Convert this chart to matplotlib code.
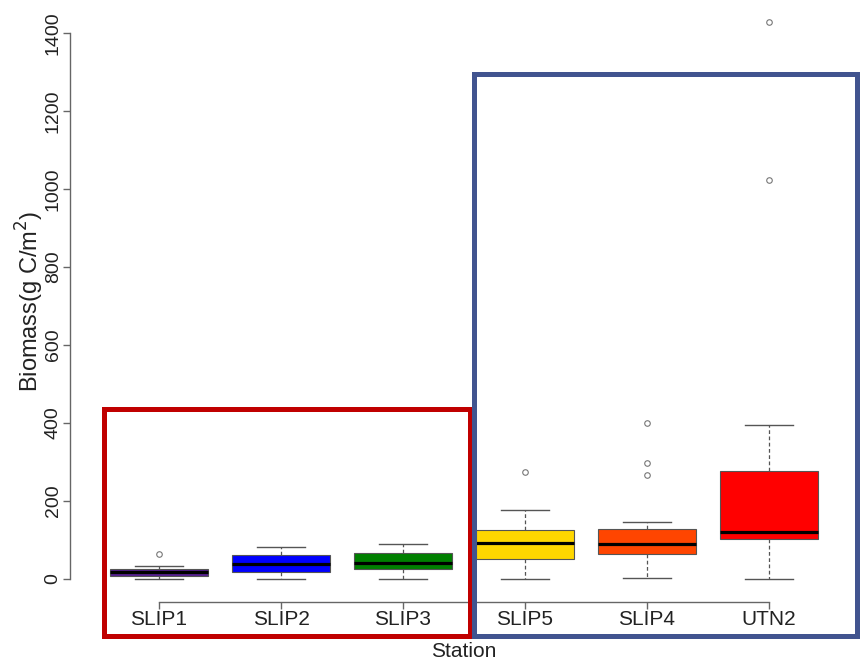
"""Biomass by station: boxplots with the two station groups outlined."""
import matplotlib
matplotlib.use("Agg")
import matplotlib.pyplot as plt
from matplotlib.patches import Rectangle

stations = ["SLIP1", "SLIP2", "SLIP3", "SLIP5", "SLIP4", "UTN2"]
colors = ["#56208E", "#0000FF", "#008000", "#FFD700", "#FF4500", "#FF0000"]

# five-number summaries (g C/m^2)
whisker_low = [0, 0, 0, 0, 3, 0]
q1 = [8, 18, 26, 51, 64, 103]
median = [18, 38, 42, 93, 91, 120]
q3 = [26, 61, 67, 126, 129, 278]
whisker_high = [33, 83, 90, 177, 146, 395]
outliers = [[64], [], [], [274], [267, 298, 399], [1022, 1427]]

# station groups outlined on top of the plot: (first x, last x, top y) in data units
groups = [(0.55, 3.55, 435, "#C00000"), (3.58, 6.72, 1294, "#41548F")]
group_bottom = -146

W, H = 867, 660
fig = plt.figure(figsize=(W / 100, H / 100), dpi=100)
ax = fig.add_axes([70 / W, 58 / H, 789 / W, 602 / H])

stats = []
for i, name in enumerate(stations):
    stats.append({
        "label": name, "whislo": whisker_low[i], "q1": q1[i], "med": median[i],
        "q3": q3[i], "whishi": whisker_high[i], "fliers": outliers[i],
    })

positions = list(range(1, len(stations) + 1))
bp = ax.bxp(stats, positions=positions, widths=0.8, patch_artist=True,
            showfliers=True, capwidths=0.4,
            boxprops=dict(edgecolor="#555555", linewidth=0.8),
            whiskerprops=dict(color="#555555", linewidth=0.9, linestyle=(0, (3, 2))),
            capprops=dict(color="#555555", linewidth=1.0),
            medianprops=dict(color="black", linewidth=2.3, solid_capstyle="butt"),
            flierprops=dict(marker="o", markersize=4, markerfacecolor="none",
                            markeredgecolor="#777777", markeredgewidth=0.8))
for patch, c in zip(bp["boxes"], colors):
    patch.set_facecolor(c)

ax.set_xlim(0.2705, 6.738)
ax.set_ylim(-59, 1484.6)

for side in ["top", "right"]:
    ax.spines[side].set_visible(False)
ax.spines["left"].set_bounds(0, 1400)
ax.spines["bottom"].set_bounds(1, 6)
for side in ["left", "bottom"]:
    ax.spines[side].set_color("#666666")
    ax.spines[side].set_linewidth(1.0)

narrow = ["Liberation Sans Narrow", "Liberation Sans", "DejaVu Sans"]
regular = ["Liberation Sans", "DejaVu Sans"]

ax.set_xticks(positions)
ax.set_xticklabels(stations, family=narrow, fontsize=15, color="#222222")
ax.set_yticks(range(0, 1401, 200))
ax.set_yticklabels([str(v) for v in range(0, 1401, 200)], rotation=90,
                   va="center", family=regular, fontsize=14, color="#222222")
ax.tick_params(axis="both", direction="out", length=5, width=1.0, color="#666666")
ax.tick_params(axis="x", pad=0.5)
ax.tick_params(axis="y", pad=1)

fig.text(30 / W, (H - 301) / H, "Biomass(g C/m$^2$)", rotation=90, ha="center",
         va="center", family=regular, fontsize=17, color="#222222")
fig.text(464 / W, 3.3 / H, "Station", ha="center", va="baseline",
         family=narrow, fontsize=15, color="#222222")

for x0, x1, top, c in groups:
    ax.add_patch(Rectangle((x0, group_bottom), x1 - x0, top - group_bottom,
                           fill=False, edgecolor=c, linewidth=3.6,
                           clip_on=False, zorder=5))

fig.savefig("out.png", dpi=100)
